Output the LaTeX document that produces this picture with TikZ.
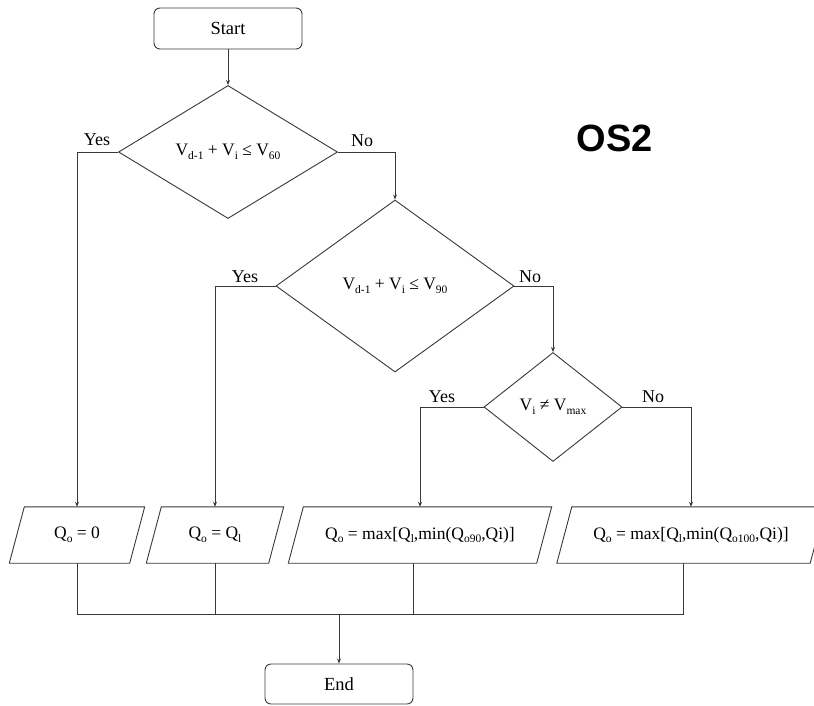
\documentclass[tikz,border=0pt]{standalone}
\usepackage{fontspec}
\setmainfont{Liberation Serif}
\newfontfamily\osfont{Liberation Sans}
\usetikzlibrary{shapes.geometric,arrows.meta}
\newcommand\sbs[1]{\raisebox{-3.8pt}{\fontsize{11.5}{12}\selectfont #1}}
\newcommand\parabox[2]{\draw[line] ([xshift=#2]#1.north west) -- ([xshift=#2]#1.north east) -- ([xshift=-#2]#1.south east) -- ([xshift=-#2]#1.south west) -- cycle;}
\begin{document}
\begin{tikzpicture}[x=1pt,y=-1pt,
  line/.style={draw=black!78, line width=0.9pt},
  arr/.style={line, -{Stealth[length=5pt,width=4pt]}},
  term/.style={draw=black!78, line width=0.9pt, rounded corners=6pt, minimum width=148pt, minimum height=41pt, inner sep=0pt, font=\fontsize{18.5}{21}\selectfont},
  dec/.style={diamond, draw=black!78, line width=0.9pt, inner sep=0pt, font=\fontsize{17.5}{20}\selectfont},
  iobox/.style={minimum height=56pt, inner sep=0pt, font=\fontsize{17.5}{20}\selectfont},
  lab/.style={anchor=base, inner sep=0pt, font=\fontsize{18}{20}\selectfont},
]
\useasboundingbox (0,0) rectangle (814,705);
\clip (0,0) rectangle (814,705);

\node[term] (start) at (228,28.5) {Start};
\node[dec, minimum width=219pt, minimum height=133pt] (d1) at (228,152) {V\sbs{d-1} + V\sbs{i} ≤ V\sbs{60}};
\node[dec, minimum width=238pt, minimum height=172pt] (d2) at (395,286) {V\sbs{d-1} + V\sbs{i} ≤ V\sbs{90}};
\node[dec, minimum width=138pt, minimum height=109pt] (d3) at (553,407) {V\sbs{i} ≠ V\sbs{max}};

\node[iobox, minimum width=120pt] (p1) at (77,535) {Q\sbs{o} = 0};
\node[iobox, minimum width=122pt] (p2) at (215,535) {Q\sbs{o} = Q\sbs{l}};
\node[iobox, minimum width=248pt] (p3) at (420,535) {Q\sbs{o} = max[Q\sbs{l},min(Q\sbs{o90},Qi)]};
\node[iobox, minimum width=253pt] (p4) at (691,535) {Q\sbs{o} = max[Q\sbs{l},min(Q\sbs{o100},Qi)]};
\parabox{p1}{7.5pt}
\parabox{p2}{7.5pt}
\parabox{p3}{7.5pt}
\parabox{p4}{7.5pt}

\node[term, minimum height=40pt] (end) at (339,684) {End};

\node[font=\osfont\bfseries\fontsize{38}{40}\selectfont, inner sep=0pt] (os) at (615,138) {OS2};

\node[lab] (y1) at (97,145) {Yes};
\node[lab] (n1) at (362,146) {No};
\node[lab] (y2) at (245,282) {Yes};
\node[lab] (n2) at (530,282) {No};
\node[lab] (y3) at (442,402) {Yes};
\node[lab] (n3) at (653,402) {No};

\draw[arr] (start) -- (d1);
\draw[arr] (d1.west) -| (p1.north);
\draw[arr] (d1.east) -| (d2.north);
\draw[arr] (d2.west) -| (p2.north);
\draw[arr] (d2.east) -| (d3.north);
\draw[arr] (d3.west) -| (p3.north);
\draw[arr] (d3.east) -| (p4.north);

\coordinate (bus) at (339,614);
\coordinate (p3b) at ([xshift=-7pt]p3.south);
\coordinate (p4b) at ([xshift=-8pt]p4.south);
\draw[line] (p1.south) |- (p4b |- bus) -- (p4b);
\draw[line] (p2.south) -- (p2.south |- bus);
\draw[line] (p3b) -- (p3b |- bus);
\draw[arr] (bus) -- (end.north);
\end{tikzpicture}
\end{document}
